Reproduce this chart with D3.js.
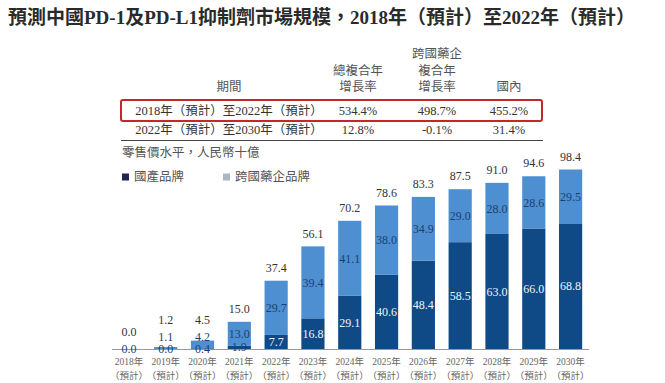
<!DOCTYPE html>
<html>
<head>
<meta charset="utf-8">
<script src="https://cdn.jsdelivr.net/npm/d3@7/dist/d3.min.js"></script>
<style>
  html, body { margin: 0; padding: 0; background: #fff; }
  svg { display: block; }
  text { font-family: "Liberation Serif", "DejaVu Serif", "Noto Sans CJK TC", serif; }
  .halt { font-feature-settings: "halt"; }
</style>
</head>
<body>
<svg id="chart" width="665" height="383"></svg>
<script>
// ---- data ----
const titleText = "預測中國PD-1及PD-L1抑制劑市場規模，2018年（預計）至2022年（預計）";
const tableHeaders = [["期間"], ["總複合年", "增長率"], ["跨國藥企", "複合年", "增長率"], ["國內"]];
const periods = ["2018年（預計）至2022年（預計）", "2022年（預計）至2030年（預計）"];
const cagrTotal = ["534.4%", "12.8%"];
const cagrForeign = ["498.7%", "-0.1%"];
const cagrDomestic = ["455.2%", "31.4%"];
const unitLabel = "零售價水平，人民幣十億";
const seriesNames = ["國產品牌", "跨國藥企品牌"];
const years = ["2018年", "2019年", "2020年", "2021年", "2022年", "2023年", "2024年",
               "2025年", "2026年", "2027年", "2028年", "2029年", "2030年"];
const yearSub = "（預計）";
const domestic = [0.0, 0.0, 0.4, 1.9, 7.7, 16.8, 29.1, 40.6, 48.4, 58.5, 63.0, 66.0, 68.8];
const foreign  = [0.0, 1.1, 4.2, 13.0, 29.7, 39.4, 41.1, 38.0, 34.9, 29.0, 28.0, 28.6, 29.5];
const totals   = [0.0, 1.2, 4.5, 15.0, 37.4, 56.1, 70.2, 78.6, 83.3, 87.5, 91.0, 94.6, 98.4];

// ---- styles ----
const cjk = '"Liberation Serif", "Noto Sans CJK TC", serif';
const darkColor = "#0f4a86";
const lightColor = "#4d8fd0";
const legendDark = "#22244f";
const legendLight = "#a9b6c4";

const svg = d3.select("#chart");

// Title
svg.append("text")
  .attr("x", 8).attr("y", 24)
  .attr("font-size", 19).attr("font-weight", "bold")
  .attr("fill", "#2a2a2a")
  .attr("font-family", cjk)
  .text(titleText);

// Table
const colX = [229, 358, 437, 509];
const headerBottom = 87, lineGap = 16.5;
tableHeaders.forEach((lines, i) => {
  lines.forEach((ln, j) => {
    svg.append("text")
      .attr("x", colX[i])
      .attr("y", headerBottom - (lines.length - 1 - j) * lineGap)
      .attr("dy", "0.35em")
      .attr("text-anchor", "middle")
      .attr("font-size", 12.5).attr("fill", "#555")
      .text(ln);
  });
});
const rowY = [111, 130];
periods.forEach((p, r) => {
  const cells = [p, cagrTotal[r], cagrForeign[r], cagrDomestic[r]];
  cells.forEach((c, i) => {
    svg.append("text")
      .attr("x", colX[i]).attr("y", rowY[r]).attr("dy", "0.35em")
      .attr("text-anchor", "middle")
      .attr("font-size", 12.5).attr("fill", "#333")
      .text(c);
  });
});
svg.append("rect")
  .attr("x", 121).attr("y", 100).attr("width", 421).attr("height", 21)
  .attr("rx", 2)
  .attr("fill", "none").attr("stroke", "#c3272c").attr("stroke-width", 2);
svg.append("line")
  .attr("x1", 121).attr("x2", 543).attr("y1", 140.5).attr("y2", 140.5)
  .attr("stroke", "#444").attr("stroke-width", 1);

svg.append("text")
  .attr("x", 122).attr("y", 153).attr("dy", "0.35em")
  .attr("font-size", 12.5).attr("fill", "#555")
  .text(unitLabel);

// Legend
const legendX = [122, 223];
const legendColors = [legendDark, legendLight];
seriesNames.forEach((n, i) => {
  svg.append("rect")
    .attr("x", legendX[i]).attr("y", 173.5).attr("width", 7).attr("height", 7)
    .attr("fill", legendColors[i]);
  svg.append("text")
    .attr("x", legendX[i] + 12).attr("y", 177).attr("dy", "0.35em")
    .attr("font-size", 12.5).attr("fill", "#555")
    .text(n);
});

// Scales
const x = d3.scaleBand().domain(years).range([110.5, 589])
  .paddingInner(0.37).paddingOuter(0.185);
const y = d3.scaleLinear().domain([0, 100]).range([349, 166.4]);
const base = y(0);

const data = years.map((yr, i) => ({ yr, d: domestic[i], f: foreign[i], t: totals[i] }));

// Bars
const g = svg.append("g");
g.selectAll("rect.dom").data(data).join("rect")
  .attr("x", d => x(d.yr)).attr("width", x.bandwidth())
  .attr("y", d => y(d.d)).attr("height", d => base - y(d.d))
  .attr("fill", darkColor);
g.selectAll("rect.for").data(data).join("rect")
  .attr("x", d => x(d.yr)).attr("width", x.bandwidth())
  .attr("y", d => y(d.d + d.f)).attr("height", d => y(d.d) - y(d.d + d.f))
  .attr("fill", lightColor);

// Axis line
svg.append("line")
  .attr("x1", 112).attr("x2", 589).attr("y1", base + 0.5).attr("y2", base + 0.5)
  .attr("stroke", "#9a9a9a").attr("stroke-width", 1);

// Label positions
data.forEach(d => {
  d.dy = (y(0) + y(d.d)) / 2;
  d.showF = d.f > 0;
  d.fy = Math.min((y(d.d) + y(d.d + d.f)) / 2, base - 12);
  const prev = d.showF ? d.fy : d.dy;
  d.ty = Math.min(y(d.t) - 13, prev - 17);
});

const cx = d => x(d.yr) + x.bandwidth() / 2;
const lab = svg.append("g").attr("text-anchor", "middle").attr("font-size", 12);
lab.selectAll("text.d").data(data).join("text")
  .attr("x", cx).attr("y", d => d.dy).attr("dy", "0.35em")
  .attr("fill", d => d.d >= 5 ? "#eef3f9" : "#1d3f73")
  .text(d => d.d.toFixed(1));
lab.selectAll("text.f").data(data.filter(d => d.showF)).join("text")
  .attr("x", cx).attr("y", d => d.fy).attr("dy", "0.35em")
  .attr("fill", "#1d3f73")
  .text(d => d.f.toFixed(1));
lab.selectAll("text.t").data(data).join("text")
  .attr("x", cx).attr("y", d => d.ty).attr("dy", "0.35em")
  .attr("fill", "#333")
  .text(d => d.t.toFixed(1));

// X labels
const xl = svg.append("g").attr("text-anchor", "middle").attr("font-size", 9.5).attr("fill", "#666");
xl.selectAll("text.yr").data(years).join("text")
  .attr("x", d => x(d) + x.bandwidth() / 2).attr("y", 362).attr("dy", "0.35em")
  .text(d => d);
xl.selectAll("text.sub").data(years).join("text")
  .attr("class", "halt")
  .attr("x", d => x(d) + x.bandwidth() / 2).attr("y", 376).attr("dy", "0.35em")
  .text(yearSub);
</script>
</body>
</html>
